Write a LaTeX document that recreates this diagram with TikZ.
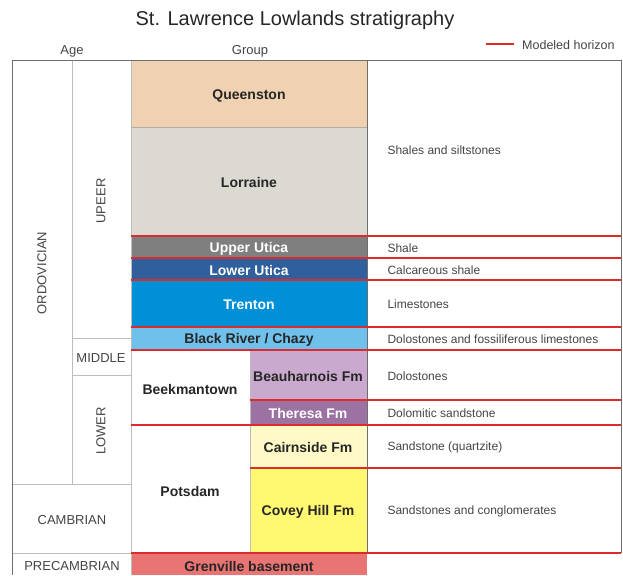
\documentclass[tikz,border=0pt]{standalone}
\usepackage{fontspec}
\setmainfont{Liberation Sans}
\usetikzlibrary{positioning}

\definecolor{queenston}{HTML}{F0D1B1}
\definecolor{lorraine}{HTML}{DCD8D2}
\definecolor{upperutica}{HTML}{7F7F7F}
\definecolor{lowerutica}{HTML}{2F5F9C}
\definecolor{trenton}{HTML}{0090D8}
\definecolor{blackriver}{HTML}{70C0EC}
\definecolor{beauharnois}{HTML}{C9A9CD}
\definecolor{theresa}{HTML}{9C72A2}
\definecolor{cairnside}{HTML}{FFF9C8}
\definecolor{coveyhill}{HTML}{FFF870}
\definecolor{grenville}{HTML}{E87573}
\definecolor{horizonred}{HTML}{DD2A2A}
\definecolor{framegray}{HTML}{6E6E6E}
\definecolor{rulegray}{HTML}{BDBDBD}
\definecolor{labeldark}{HTML}{262626}
\definecolor{agegray}{HTML}{444444}

\begin{document}
\begin{tikzpicture}[x=1pt,y=-1pt,
    frame/.style={draw=framegray,line width=1pt},
    rule/.style={draw=rulegray,line width=0.9pt},
    horizon/.style={draw=horizonred,line width=2.6pt},
    grp/.style={font=\fontsize{14}{16}\selectfont\bfseries,text=labeldark,yshift=-1.5pt},
    grpw/.style={grp,text=white},
    age/.style={font=\fontsize{13}{15}\selectfont,text=agegray,yshift=-1pt},
    desc/.style={font=\fontsize{12}{14}\selectfont,text=agegray,anchor=west,yshift=-1pt}]

  \useasboundingbox (0,0) rectangle (623,575);

  \fill[queenston] (131,61) rectangle (367,127);
  \fill[lorraine] (131,127) rectangle (367,236);
  \fill[upperutica] (131,236) rectangle (367,258);
  \fill[lowerutica] (131,258) rectangle (367,280);
  \fill[trenton] (131,280) rectangle (367,327);
  \fill[blackriver] (131,327) rectangle (367,350);
  \fill[beauharnois] (250,350) rectangle (367,400);
  \fill[theresa] (250,400) rectangle (367,425);
  \fill[cairnside] (250,425) rectangle (367,468);
  \fill[coveyhill] (250,468) rectangle (367,553);
  \fill[grenville] (131,553) rectangle (367,575);

  \draw[rule] (72,61) -- (72,484);
  \draw[rule] (72,338) -- (131,338);
  \draw[rule] (72,375) -- (131,375);
  \draw[rule] (12,484) -- (131,484);
  \draw[rule] (12,553) -- (131,553);
  \draw[rule] (250,350) -- (250,553);
  \draw[rule] (131,61) -- (131,575);
  \draw[draw=lorraine!80!black,line width=0.8pt] (131,127) -- (367,127);
  \draw[frame] (12,575) -- (12,61) -- (621,61) -- (621,553);
  \draw[frame] (367,61) -- (367,553);

  \draw[horizon] (131,236) -- (621,236);
  \draw[horizon] (131,258) -- (621,258);
  \draw[horizon] (131,280) -- (621,280);
  \draw[horizon] (131,327) -- (621,327);
  \draw[horizon] (131,350) -- (621,350);
  \draw[horizon] (250,400) -- (621,400);
  \draw[horizon] (131,425) -- (621,425);
  \draw[horizon] (250,468) -- (621,468);
  \draw[horizon] (131,553) -- (621,553);

  \node[font=\fontsize{20}{24}\selectfont,text=labeldark] (title) at (295,20) {St. Lawrence Lowlands stratigraphy};
  \node[age] (agehead) at (72,50) {Age};
  \node[age] (grouphead) at (250,50) {Group};
  \coordinate (legstart) at (486,44);
  \coordinate (legend) at (514,44);
  \draw[horizon] (legstart) -- (legend);
  \node[desc,font=\fontsize{12.5}{14}\selectfont,right=8pt of legend,inner sep=0pt] (legtext) {Modeled horizon};

  \node[age,rotate=90] (ordovician) at (42,272) {ORDOVICIAN};
  \node[age,rotate=90] (upper) at (101,200) {UPEER};
  \node[age] (middle) at (101,357) {MIDDLE};
  \node[age,rotate=90] (lower) at (101,430) {LOWER};
  \node[age] (cambrian) at (72,519) {CAMBRIAN};
  \node[age] (precambrian) at (72,565) {PRECAMBRIAN};

  \node[grp] (queen) at (249,94) {Queenston};
  \node[grp] (lorr) at (249,181) {Lorraine};
  \node[grpw] (uutica) at (249,247) {Upper Utica};
  \node[grpw] (lutica) at (249,269) {Lower Utica};
  \node[grpw] (tren) at (249,303) {Trenton};
  \node[grp] (briver) at (249,338) {Black River / Chazy};
  \node[grp] (beek) at (190,388) {Beekmantown};
  \node[grp] (beau) at (308,375) {Beauharnois Fm};
  \node[grpw] (ther) at (308,412) {Theresa Fm};
  \node[grp] (pots) at (190,490) {Potsdam};
  \node[grp] (cair) at (308,446) {Cairnside Fm};
  \node[grp] (covey) at (308,510) {Covey Hill Fm};
  \node[grp] (gren) at (249,565) {Grenville basement};

  \node[desc] (dshales) at (384,149) {Shales and siltstones};
  \node[desc] (dshale) at (384,247) {Shale};
  \node[desc] (dcalc) at (384,269) {Calcareous shale};
  \node[desc] (dlime) at (384,303) {Limestones};
  \node[desc] (ddolfos) at (384,338) {Dolostones and fossiliferous limestones};
  \node[desc] (ddol) at (384,375) {Dolostones};
  \node[desc] (ddolsand) at (384,412) {Dolomitic sandstone};
  \node[desc] (dquartz) at (384,446) {Sandstone (quartzite)};
  \node[desc] (dconglo) at (384,510) {Sandstones and conglomerates};

\end{tikzpicture}
\end{document}
